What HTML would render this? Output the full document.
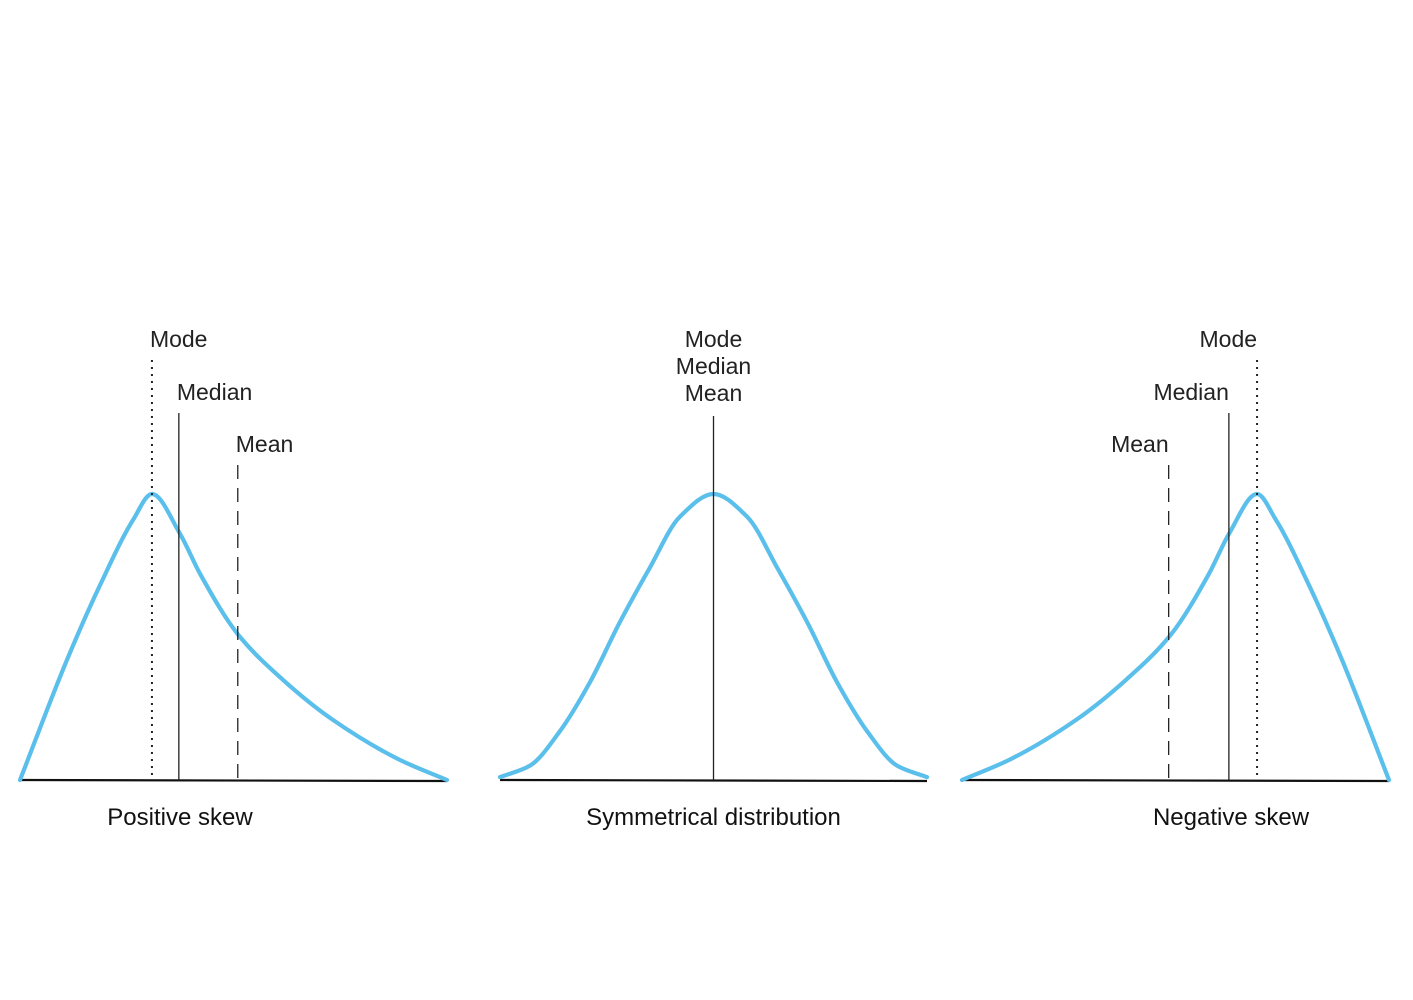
<!DOCTYPE html>
<html><head><meta charset="utf-8"><style>
body{margin:0;background:#fff}
svg{display:block}
text{font-family:"Liberation Sans",sans-serif}
</style></head><body>
<svg id="chart" width="1413" height="1000" viewBox="0 0 1413 1000"></svg>
<script>
// Data (x in 0..10 domain, density relative to peak 0..1)
const posX = [0,1.1,1.87,2.65,3.09,3.75,4.22,5.1,6.16,7.33,8.9,10];
const posY = [0,0.42,0.68,0.91,1,0.86,0.72,0.51,0.35,0.21,0.07,0];
const symX = [0,0.70,1.40,2.10,2.80,3.50,4.21,5,5.79,6.50,7.20,7.90,8.60,9.30,10];
const symY = [0.01,0.05,0.17,0.34,0.55,0.74,0.92,1,0.92,0.74,0.55,0.34,0.17,0.05,0.01];
const negX = [0,1.1,2.67,3.84,4.9,5.78,6.25,6.91,7.35,8.13,8.9,10];
const negY = [0,0.07,0.21,0.35,0.51,0.72,0.86,1,0.91,0.68,0.42,0];
const panelTitles = ["Positive skew","Symmetrical distribution","Negative skew"];
const posMarks = [["Mode",3.09,"dot"],["Median",3.72,"solid"],["Mean",5.1,"dash"]];
const negMarks = [["Mode",6.91,"dot"],["Median",6.25,"solid"],["Mean",4.84,"dash"]];
const symMarkX = 5;

const svg = document.getElementById('chart');
const NS = 'http://www.w3.org/2000/svg';
const baseY = 780, H = 286, W = 427;
const labelTop = {Mode:360, Median:413, Mean:465};
function mk(tag, attrs){const e=document.createElementNS(NS,tag);for(const k in attrs)e.setAttribute(k,attrs[k]);svg.appendChild(e);return e;}
function sx(x0,x){return x0 + x/10*W;}
function sy(y){return baseY - y*H;}
// monotone cubic (Fritsch-Carlson) path in pixel space
function monotone(pts){
  const n=pts.length,dx=[],m=[],t=new Array(n);
  for(let i=0;i<n-1;i++){dx.push(pts[i+1][0]-pts[i][0]);m.push((pts[i+1][1]-pts[i][1])/dx[i]);}
  t[0]=m[0];t[n-1]=m[n-2];
  for(let i=1;i<n-1;i++){
    if(m[i-1]*m[i]<=0)t[i]=0;
    else{const w1=2*dx[i]+dx[i-1],w2=dx[i]+2*dx[i-1];t[i]=(w1+w2)/(w1/m[i-1]+w2/m[i]);}
  }
  let d='M'+pts[0][0]+','+pts[0][1];
  for(let i=0;i<n-1;i++){
    const h=dx[i]/3;
    d+=' C'+(pts[i][0]+h)+','+(pts[i][1]+t[i]*h)+' '+(pts[i+1][0]-h)+','+(pts[i+1][1]-t[i+1]*h)+' '+pts[i+1][0]+','+pts[i+1][1];
  }
  return d;
}
function panel(idx,x0,xs,ys){
  const ax=mk('line',{x1:x0,y1:baseY,x2:x0+W,y2:baseY+1,stroke:'#111','stroke-width':2.2});
  
  
  const pts=xs.map((x,i)=>[sx(x0,x),sy(ys[i])]);
  const c=mk('path',{d:monotone(pts),fill:'none',stroke:'#5bbfeb','stroke-width':4.2,'stroke-linecap':'round'});
  
  
  const t=mk('text',{x:x0+(idx===1?W/2:idx===0?160:269),y:825,'font-size':24,'text-anchor':'middle',fill:'#111'});
  t.textContent=panelTitles[idx];
  
  
}
function marker(x0,m,anchor){
  const x=sx(x0,m[1]);
  const dash=m[2]==='dot'?'2 5':m[2]==='dash'?'14 9':'none';
  const l=mk('line',{x1:x,y1:labelTop[m[0]],x2:x,y2:baseY,stroke:'#222','stroke-width':m[2]==='dot'?2:1.3,'stroke-dasharray':dash});
  
  
  const t=mk('text',{x:anchor==='end'?x:x-2,y:labelTop[m[0]]-13,'font-size':23,'text-anchor':anchor,fill:'#222'});
  t.textContent=m[0];
  
  
}
panel(0,20,posX,posY);
panel(1,500,symX,symY);
panel(2,962,negX,negY);
posMarks.forEach(m=>marker(20,m,'start'));
negMarks.forEach(m=>marker(962,m,'end'));
const mx=sx(500,symMarkX);
const sl=mk('line',{x1:mx,y1:416,x2:mx,y2:baseY,stroke:'#222','stroke-width':1.3});


["Mode","Median","Mean"].forEach((s,i)=>{
  const t=mk('text',{x:mx,y:347+i*27,'font-size':23,'text-anchor':'middle',fill:'#222'});
  t.textContent=s;
  
  
});
</script>
</body></html>
